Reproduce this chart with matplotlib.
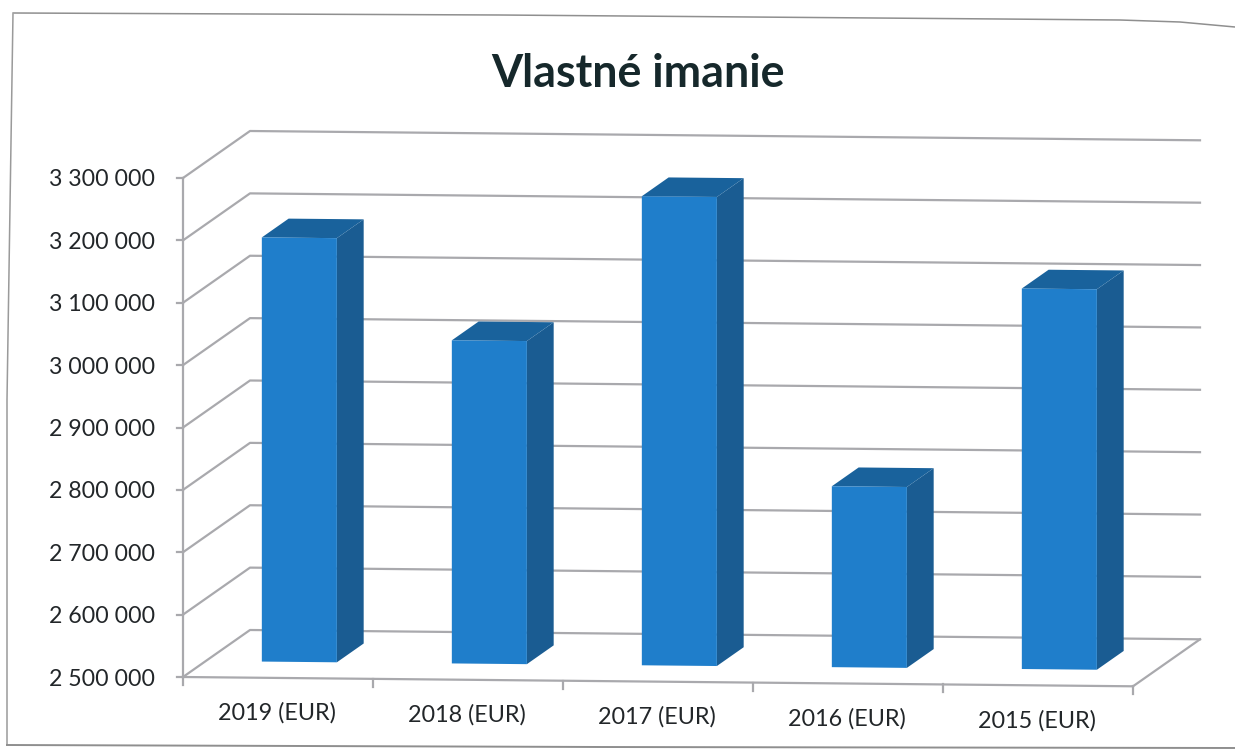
import matplotlib
matplotlib.use("Agg")
import matplotlib.pyplot as plt
from matplotlib.patches import Polygon

categories = ["2019 (EUR)", "2018 (EUR)", "2017 (EUR)", "2016 (EUR)", "2015 (EUR)"]
values = [3180000, 3018000, 3252000, 2790000, 3110000]
ticks = [2500000, 2600000, 2700000, 2800000, 2900000, 3000000, 3100000, 3200000, 3300000]

plt.rcParams['font.family'] = ['Lato', 'DejaVu Sans']

GRID = '#a9a9ad'
FRONT = '#1f7ecb'
SIDE = '#1a5c92'
TOP = '#19629c'
TEXT = '#222629'


def project(cat, val, depth=0.0):
    """Category slot, value and depth (0 front wall, 1 back wall) to picture position."""
    x = 183 + 190 * cat + 67 * depth
    y = 677 - (val - 2500000) * 499 / 800000 + 1.86 * cat - 47 * depth
    return x, y


def fmt(v):
    return f"{v:,}".replace(",", " ")


fig = plt.figure(figsize=(12.35, 7.49), dpi=100)
ax = fig.add_axes([0, 0, 1, 1])
ax.set_xlim(0, 1235)
ax.set_ylim(749, 0)
ax.axis('off')

# scan frame around the chart
ax.plot([14, 500, 1000, 1120, 1180, 1235], [13, 15, 19, 20, 22, 27], color='#8f8f8f', lw=1.1)
ax.plot([13, 7, 7], [13, 400, 745], color='#9a9a9a', lw=1.1)
ax.plot([7, 600, 1235], [745, 747, 748], color='#8f8f8f', lw=1.4)

n = len(categories)

# walls and grid
for t in ticks:
    ax.plot(*zip(project(0, t), project(0, t, 1), project(n, t, 1)), color=GRID, lw=1.6, zorder=1)
    px, py = project(0, t)
    ax.plot([px - 6, px], [py, py], color=GRID, lw=1.6, zorder=1)
    ax.text(px - 28, py, fmt(t), ha='right', va='center_baseline', fontsize=16.7, color=TEXT)

ax.plot(*zip(project(0, ticks[0]), project(0, ticks[-1])), color=GRID, lw=1.6, zorder=1)
ax.plot(*zip(project(0, ticks[0]), project(n, ticks[0])), color=GRID, lw=1.6, zorder=1)
ax.plot(*zip(project(n, ticks[0]), project(n, ticks[0], 1)), color=GRID, lw=1.6, zorder=1)

for i in range(n + 1):
    px, py = project(i, ticks[0])
    ax.plot([px, px], [py, py + 8], color=GRID, lw=1.6, zorder=1)

# bars
for i, (name, v) in enumerate(zip(categories, values)):
    a, b = i + 0.295, i + 0.69
    d0, d1 = 0.34, 0.74
    base = ticks[0]
    front = [project(a, base, d0), project(b, base, d0), project(b, v, d0), project(a, v, d0)]
    side = [project(b, base, d0), project(b, base, d1), project(b, v, d1), project(b, v, d0)]
    top = [project(a, v, d0), project(b, v, d0), project(b, v, d1), project(a, v, d1)]
    ax.add_patch(Polygon(side, color=SIDE, lw=0, zorder=3))
    ax.add_patch(Polygon(top, color=TOP, lw=0, zorder=3))
    ax.add_patch(Polygon(front, color=FRONT, lw=0, zorder=4))
    px, py = project(i + 0.5, base)
    ax.text(px - 1, py + 33, name, ha='center', va='center_baseline', fontsize=16.8, color=TEXT)

ax.text(638, 70, "Vlastné imanie", ha='center', va='center_baseline', fontsize=32.3,
        fontweight='bold', color='#16282b')

fig.savefig('out.png', dpi=100)
